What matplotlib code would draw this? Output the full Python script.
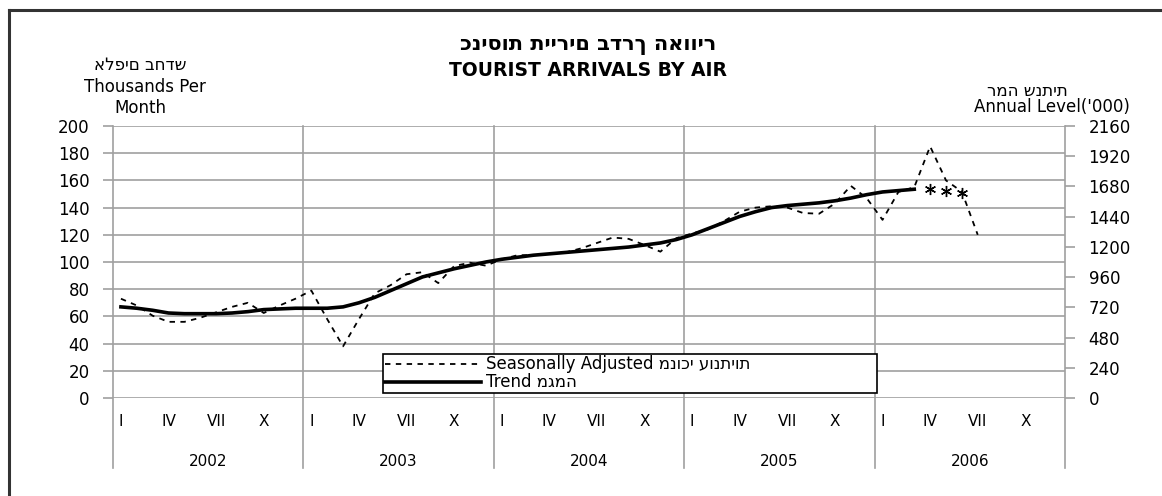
import matplotlib
matplotlib.use("Agg")
import matplotlib.pyplot as plt
import numpy as np

plt.rcParams['font.family'] = ['DejaVu Sans']

# data (thousands per month), Jan 2002 onwards
years = ["2002", "2003", "2004", "2005", "2006"]
month_labels = ["I", "IV", "VII", "X"]
seasonal = [73, 68, 60.5, 56, 56, 59, 63, 67, 70, 62.5, 68, 73,
            79, 58, 38, 58, 77, 83, 91, 92.5, 84.5, 97, 99.5, 97.3,
            102, 105, 105, 106, 107, 110, 114, 118, 117, 112.5, 107.6, 117.5,
            121, 124, 130, 137, 140, 141, 140, 136, 135.5, 143, 156, 147,
            131, 151.5, 155, 185, 160, 151.7, 120]
trend = [67, 66, 64.5, 62.5, 62, 62, 62, 62.5, 63.5, 65, 65.5, 66,
         66, 66, 67, 70, 74, 79, 84, 89, 92, 95, 97.5, 100,
         102, 103.5, 105, 106, 107, 108, 109, 110, 111, 112.5, 114, 116.5,
         120, 124.5, 129, 133.5, 137, 140, 141.5, 142.5, 143.5, 145, 147, 149.5,
         151.5, 152.5, 153.5]
# provisional trend estimates (Apr-Jun 2006)
prov_months = [51, 52, 53]
prov_trend = [153.7, 152.2, 150.7]

he_title = "כניסות תיירים בדרך האוויר"
he_left = "אלפים בחדש"
he_right = "רמה שנתית"
he_sa = "מנוכי עונתיות"
he_trend = "מגמה"

grid_c = "#a0a0a0"

fig = plt.figure(figsize=(11.62, 4.96), dpi=100)
W, H = 1162, 496
ax = fig.add_axes([113 / W, 1 - 398 / H, (1065 - 113) / W, (398 - 126) / H])

x_sa = np.arange(len(seasonal)) + 0.5
x_tr = np.arange(len(trend)) + 0.5
ax.plot(x_sa, seasonal, color="black", lw=1.3, ls=(0, (3, 3)), zorder=3,
        label="Seasonally Adjusted " + he_sa)
ax.plot(x_tr, trend, color="black", lw=2.6, zorder=4, label="Trend " + he_trend)
ax.plot(np.array(prov_months) + 0.5, prov_trend, ls="none", marker=(6, 2, 0),
        ms=8, mew=1.0, color="black", zorder=4)

ax.set_xlim(0, 60)
ax.set_ylim(0, 200)
ax.set_yticks(np.arange(0, 201, 20))
ax.set_xticks([])
ax.yaxis.grid(True, color=grid_c, lw=1.2)
ax.set_axisbelow(True)
for s in ax.spines.values():
    s.set_visible(False)
ax.tick_params(axis="y", length=7, width=1.2, color=grid_c, pad=10, labelsize=12)

# year separators run down through the category labels
for yb in range(0, 61, 12):
    ax.axvline(yb, ymin=-0.257, ymax=1, color=grid_c, lw=1.2, clip_on=False, zorder=1)

for i, yr in enumerate(years):
    for j, ml in enumerate(month_labels):
        ax.text(i * 12 + j * 3 + 0.5, -24 / 272, ml, transform=ax.get_xaxis_transform(),
                ha="center", va="center", fontsize=11)
    ax.text(i * 12 + 6, -64 / 272, yr, transform=ax.get_xaxis_transform(),
            ha="center", va="center", fontsize=11)

ax2 = ax.twinx()
ax2.set_ylim(0, 2160)
ax2.set_yticks(np.arange(0, 2161, 240))
for s in ax2.spines.values():
    s.set_visible(False)
ax2.tick_params(axis="y", length=7, width=1.2, color=grid_c, pad=10, labelsize=12)

leg = ax.legend(loc="lower left", bbox_to_anchor=(0.2836, 0.018, 0.519, 0.151),
                mode="expand", fontsize=12, handlelength=5.8, handletextpad=0.3,
                borderpad=0.1, labelspacing=0.0, fancybox=False, framealpha=1,
                edgecolor="black", borderaxespad=0)
leg.get_frame().set_linewidth(1.2)
leg.set_zorder(10)

# titles and axis captions
fig.text(588 / W, 1 - 45 / H, he_title, ha="center", va="center",
         fontsize=15, fontweight="bold")
fig.text(588 / W, 1 - 71 / H, "TOURIST ARRIVALS BY AIR", ha="center", va="center",
         fontsize=13.5, fontweight="bold")
fig.text(140 / W, 1 - 65 / H, he_left, ha="center", va="center", fontsize=12)
fig.text(145 / W, 1 - 87 / H, "Thousands Per", ha="center", va="center", fontsize=12)
fig.text(140 / W, 1 - 108 / H, "Month", ha="center", va="center", fontsize=12)
fig.text(1027 / W, 1 - 91 / H, he_right, ha="center", va="center", fontsize=12)
fig.text(1130 / W, 1 - 107 / H, "Annual Level('000)", ha="right", va="center", fontsize=12)

# outer frame (top and left edges visible)
fig.add_artist(plt.Line2D([9 / W, 9 / W], [0, 1 - 10 / H], transform=fig.transFigure,
                          color="#333333", lw=2.2))
fig.add_artist(plt.Line2D([9 / W, 1], [1 - 10 / H, 1 - 10 / H], transform=fig.transFigure,
                          color="#333333", lw=2.2))

fig.savefig("out.png", dpi=100)
